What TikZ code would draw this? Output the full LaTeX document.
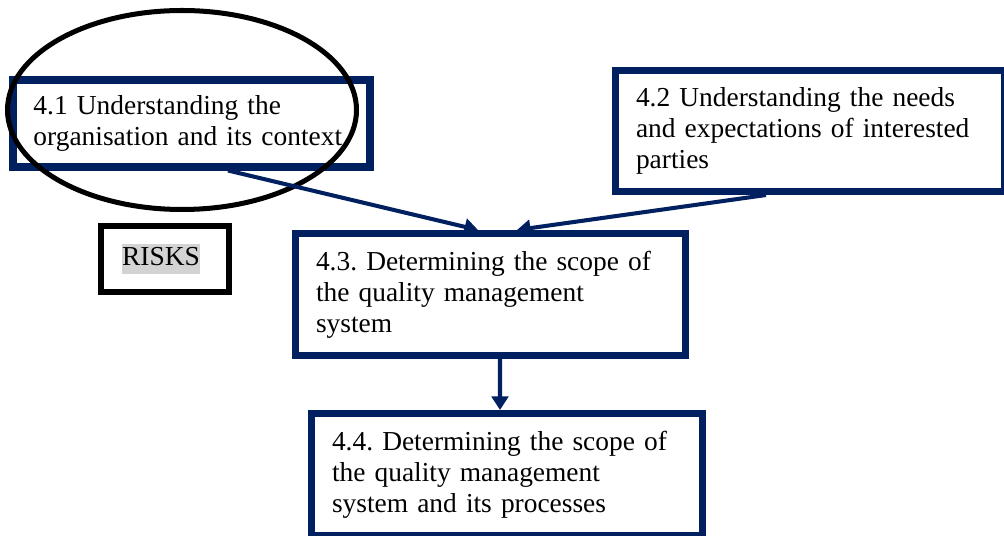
\documentclass[tikz,border=0pt]{standalone}
\usepackage{fontspec}
\setmainfont{Liberation Serif}
\usetikzlibrary{arrows.meta,shapes.geometric}
\definecolor{isonavy}{RGB}{0,32,96}
\definecolor{hlgray}{RGB}{211,211,211}
\setlength{\fboxsep}{0pt}
\frenchspacing
\tikzset{%
    every node/.style={font=\fontsize{15.6pt}{17.6pt}\selectfont},
    clause/.style={rectangle, draw=isonavy, line width=4pt, align=left,
    	inner xsep=0.41cm, inner ysep=0pt},
    riskbox/.style={rectangle, draw=black, line width=3.4pt,
    	minimum width=2.56cm, minimum height=1.32cm},
    ring/.style={ellipse, draw=black, line width=2.85pt, inner sep=0pt,
    	minimum width=6.98cm, minimum height=3.98cm},
    flow/.style={draw=isonavy, line width=2.3pt,
    	-{Triangle[length=0.27cm, width=0.33cm]}}
}

\begin{document}
\begin{tikzpicture}
	\useasboundingbox (0cm,0cm) rectangle (20.08cm,-10.72cm);
	\node [clause, minimum width=7.14cm, minimum height=1.74cm,
		text width=6.32cm] (box41) at (3.83cm,-2.47cm)
		{4.1 Understanding the\\organisation and its context};
	\node [clause, minimum width=7.78cm, minimum height=2.42cm,
		text width=6.96cm] (box42) at (16.2cm,-2.62cm)
		{4.2 Understanding the needs\\and expectations of interested\\parties};
	\node [clause, minimum width=7.8cm, minimum height=2.44cm,
		text width=6.98cm] (box43) at (9.81cm,-5.89cm)
		{4.3. Determining the scope of\\the quality management\\system};
	\node [clause, minimum width=7.82cm, minimum height=2.44cm,
		text width=7cm] (box44) at (10.14cm,-9.49cm)
		{4.4. Determining the scope of\\the quality management\\system and its processes};
	\node [riskbox] (risks) at (3.3cm,-5.18cm)
		{\colorbox{hlgray}{\strut RISKS}\hspace*{0.16cm}};
	\node [ring] (ring) at (3.64cm,-2.2cm) {};
	\draw [flow] ([xshift=0.73cm]box41.south) -- ([xshift=-0.25cm]box43.north);
	\draw [flow] ([xshift=-0.88cm]box42.south) -- ([xshift=0.53cm]box43.north);
	\draw [flow] ([xshift=0.19cm]box43.south) -- ([xshift=-0.14cm]box44.north);
\end{tikzpicture}
\end{document}
